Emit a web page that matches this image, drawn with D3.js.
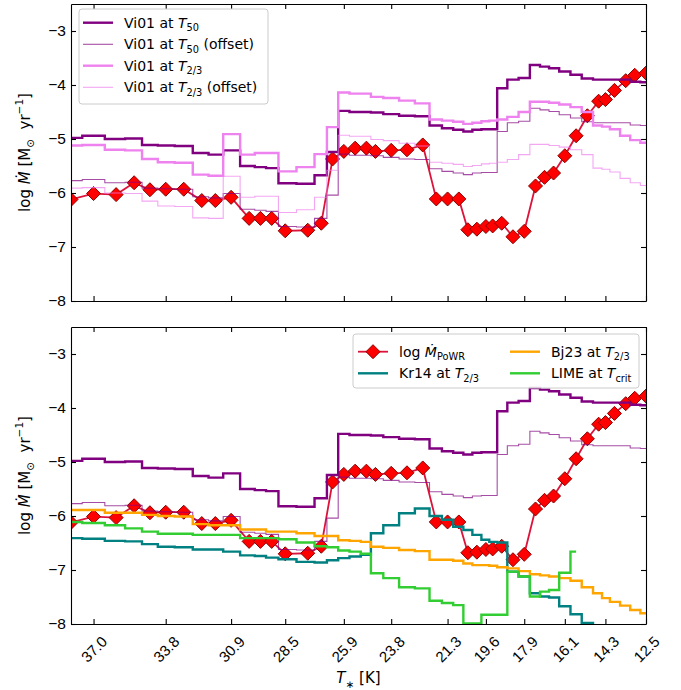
<!DOCTYPE html>
<html>
<head>
<meta charset="utf-8">
<script src="https://cdn.jsdelivr.net/npm/d3@7"></script>
<style>
  body { margin: 0; background: #fff; }
  svg { font-family: "DejaVu Sans", sans-serif; }
  text { white-space: pre; }
</style>
</head>
<body>
<div id="chart"></div>
<script>
// stellar temperatures of the model grid (kK), left to right
var Tstar = [38.0, 37.0, 36.0, 35.2, 34.5, 33.8, 33.0, 32.2, 31.6, 30.9, 30.1, 29.6,
             29.1, 28.5, 27.5, 26.9, 26.4, 25.9, 25.4, 24.9, 24.5, 23.8, 23.1, 22.4,
             21.8, 21.3, 20.8, 20.4, 20.0, 19.6, 19.3, 18.9, 18.4, 17.9, 17.4, 17.0,
             16.6, 16.1, 15.6, 15.1, 14.6, 14.3, 13.9, 13.4, 13.0, 12.5];

// log Mdot from PoWR models
var logMdotPoWR = [-6.12, -6.01, -6.03, -5.81, -5.94, -5.93, -5.93, -6.14, -6.14, -6.08, -6.47, -6.47,
                   -6.47, -6.70, -6.69, -6.56, -5.37, -5.23, -5.17, -5.17, -5.23, -5.21, -5.20, -5.11,
                   -6.11, -6.11, -6.11, -6.68, -6.67, -6.62, -6.61, -6.56, -6.81, -6.71, -5.87, -5.71,
                   -5.63, -5.31, -4.94, -4.57, -4.30, -4.27, -4.10, -3.92, -3.82, -3.78];

// Vink et al. 2001 recipe
var vi01T50 = [-4.98, -4.94, -5.00, -4.99, -5.11, -5.12, -5.13, -5.26, -5.29, -5.21, -5.50, -5.52,
               -5.54, -5.82, -5.83, -5.67, -5.24, -4.48, -4.50, -4.50, -4.51, -4.54, -4.57, -4.58,
               -4.75, -4.80, -4.83, -4.86, -4.83, -4.82, -4.82, -4.06, -3.90, -3.87, -3.63, -3.66,
               -3.69, -3.75, -3.81, -3.88, -3.90, -3.90, -3.90, -3.90, -3.94, -3.95];
var vi01T50off = [-5.77, -5.75, -5.81, -5.80, -5.91, -5.92, -5.93, -6.07, -6.09, -6.01, -6.30, -6.32,
                  -6.34, -6.62, -6.63, -6.47, -6.04, -5.28, -5.30, -5.30, -5.31, -5.34, -5.37, -5.38,
                  -5.55, -5.60, -5.63, -5.66, -5.63, -5.62, -5.62, -4.86, -4.70, -4.67, -4.43, -4.46,
                  -4.49, -4.55, -4.61, -4.68, -4.70, -4.70, -4.70, -4.70, -4.74, -4.75];
var vi01T23 = [-5.12, -5.11, -5.20, -5.21, -5.37, -5.43, -5.44, -5.66, -5.68, -4.91, -5.29, -5.26,
               -5.26, -5.60, -5.52, -5.28, -4.78, -4.14, -4.16, -4.16, -4.22, -4.24, -4.29, -4.34,
               -4.64, -4.66, -4.68, -4.72, -4.70, -4.67, -4.66, -4.64, -4.59, -4.50, -4.31, -4.31,
               -4.33, -4.36, -4.41, -4.50, -4.75, -4.77, -4.82, -4.94, -5.02, -5.07];
var vi01T23off = [-5.91, -5.90, -6.00, -6.01, -6.15, -6.24, -6.25, -6.46, -6.47, -5.69, -6.08, -6.06,
                  -6.06, -6.36, -6.31, -6.08, -5.58, -4.93, -4.95, -4.95, -5.01, -5.03, -5.08, -5.13,
                  -5.43, -5.45, -5.47, -5.51, -5.49, -5.46, -5.45, -5.43, -5.38, -5.29, -5.10, -5.10,
                  -5.12, -5.15, -5.20, -5.29, -5.54, -5.56, -5.61, -5.73, -5.81, -5.86];

// other recipes (bottom panel)
var kr14T23 = [-6.41, -6.42, -6.46, -6.47, -6.52, -6.57, -6.58, -6.62, -6.62, -6.66, -6.73, -6.74,
               -6.77, -6.80, -6.85, -6.86, -6.82, -6.78, -6.75, -6.72, -6.32, -6.17, -5.95, -5.86,
               -6.00, -6.07, -6.20, -6.26, -6.35, -6.44, -6.48, -6.49, -7.03, -7.12, -7.43, -7.49,
               -7.51, -7.67, -7.82, -7.98, -8.10, -8.20, -8.30, -8.40, -8.50, -8.60];
var bj23T23 = [-5.89, -5.89, -5.94, -5.94, -5.98, -6.00, -6.01, -6.15, -6.17, -6.17, -6.25, -6.25,
               -6.29, -6.29, -6.32, -6.37, -6.37, -6.45, -6.46, -6.48, -6.57, -6.59, -6.63, -6.65,
               -6.81, -6.81, -6.83, -6.88, -6.91, -6.91, -6.92, -6.95, -6.97, -7.02, -7.08, -7.10,
               -7.12, -7.15, -7.20, -7.32, -7.43, -7.52, -7.59, -7.66, -7.74, -7.80];
var limeTcrit = [-6.11, -6.13, -6.17, -6.23, -6.29, -6.33, -6.33, -6.35, -6.35, -6.35, -6.41, -6.41,
                 -6.41, -6.43, -6.49, -6.56, -6.58, -6.64, -6.66, -6.70, -7.06, -7.15, -7.32, -7.34,
                 -7.57, -7.61, -7.65, -7.99, -7.99, -7.83, -7.83, -7.83, -7.03, -7.12, -7.49, -7.40,
                 -7.37, -7.05, -6.66, null, null, null, null, null, null, null];

// axis ticks
var xTickValues = [37.0, 33.8, 30.9, 28.5, 25.9, 23.8, 21.3, 19.6, 17.9, 16.1, 14.3, 12.5];
var yTickValues = [-8, -7, -6, -5, -4, -3];

// set the dimensions of the figure and of the two panels
var W = 681, H = 690;
var left = 71, right = 646;
var panels = [{top: 4, bottom: 301}, {top: 327, bottom: 624}];

var svg = d3.select("#chart").append("svg")
    .attr("width", W)
    .attr("height", H);

// set the ranges (temperature axis is reversed)
var x = d3.scaleLinear()
    .domain([Tstar[0], Tstar[Tstar.length - 1]])
    .range([left, right]);

// helper: mixed text with italics, sub- and superscripts
function richText(sel, parts, fs) {
  var shift = 0;
  parts.forEach(function(p) {
    var target = p.sub ? fs * 0.3 : (p.sup ? -fs * 0.42 : 0);
    sel.append("tspan")
        .attr("dy", target - shift)
        .attr("font-size", (p.sub || p.sup) ? fs * 0.7 : fs)
        .attr("font-style", p.i ? "italic" : null)
        .text(p.t);
    shift = target;
  });
}

function seriesPoints(vals) {
  return vals.map(function(v, i) { return {t: Tstar[i], v: v}; });
}

function diamondPath(r) {
  return "M0," + (-r) + "L" + r + ",0L0," + r + "L" + (-r) + ",0Z";
}

panels.forEach(function(p, k) {
  var y = d3.scaleLinear().domain([-8, -2.5]).range([p.bottom, p.top]);
  var g = svg.append("g");

  g.append("clipPath").attr("id", "clip" + k)
    .append("rect")
      .attr("x", left).attr("y", p.top)
      .attr("width", right - left).attr("height", p.bottom - p.top);

  var plot = g.append("g").attr("clip-path", "url(#clip" + k + ")");

  var stepLine = d3.line()
      .defined(function(d) { return d.v !== null; })
      .curve(d3.curveStep)
      .x(function(d) { return x(d.t); })
      .y(function(d) { return y(d.v); });

  function addStep(vals, color, width, opacity) {
    plot.append("path")
        .datum(seriesPoints(vals))
        .attr("fill", "none")
        .attr("stroke", color)
        .attr("stroke-width", width)
        .attr("stroke-opacity", opacity)
        .attr("d", stepLine);
  }

  // PoWR mass-loss rates: line + diamonds
  plot.append("path")
      .datum(seriesPoints(logMdotPoWR))
      .attr("fill", "none")
      .attr("stroke", "#dc143c")
      .attr("stroke-width", 1.8)
      .attr("d", d3.line()
          .x(function(d) { return x(d.t); })
          .y(function(d) { return y(d.v); }));

  plot.selectAll(".dmd")
      .data(seriesPoints(logMdotPoWR))
    .enter().append("path")
      .attr("class", "dmd")
      .attr("transform", function(d) { return "translate(" + x(d.t) + "," + y(d.v) + ")"; })
      .attr("d", diamondPath(7))
      .attr("fill", "#ff0000")
      .attr("stroke", "#8b0000")
      .attr("stroke-width", 1);

  addStep(vi01T50, "#800080", 2.4, 1);
  addStep(vi01T50off, "#800080", 1.1, 0.7);
  if (k === 0) {
    addStep(vi01T23, "#ee82ee", 2.4, 1);
    addStep(vi01T23off, "#ee82ee", 1.1, 0.7);
  } else {
    addStep(kr14T23, "#008080", 2.4, 1);
    addStep(bj23T23, "#ffa500", 2.4, 1);
    addStep(limeTcrit, "#32cd32", 2.4, 1);
  }

  // axes with inward ticks on all sides
  var axL = g.append("g").attr("transform", "translate(" + left + ",0)")
      .call(d3.axisLeft(y).tickValues(yTickValues).tickFormat(d3.format("d"))
            .tickSizeInner(-5).tickSizeOuter(0).tickPadding(5));
  axL.selectAll("text").attr("font-size", 15.5).attr("fill", "#000");
  g.append("g").attr("transform", "translate(" + right + ",0)")
      .call(d3.axisRight(y).tickValues(yTickValues).tickSizeInner(-5).tickSizeOuter(0).tickFormat(""));
  g.append("g").attr("transform", "translate(0," + p.top + ")")
      .call(d3.axisTop(x).tickValues(xTickValues).tickSizeInner(-5).tickSizeOuter(0).tickFormat(""));
  var axB = g.append("g").attr("transform", "translate(0," + p.bottom + ")")
      .call(d3.axisBottom(x).tickValues(xTickValues).tickSizeInner(-5).tickSizeOuter(0)
            .tickFormat(k === 1 ? d3.format(".1f") : ""));
  axB.selectAll("text")
      .attr("y", null).attr("dy", null)
      .attr("dominant-baseline", "central")
      .attr("text-anchor", "middle")
      .attr("font-size", 15)
      .attr("fill", "#000")
      .attr("transform", "translate(0,25) rotate(-45)");
  g.selectAll(".domain").attr("stroke", "#000").attr("stroke-width", 1.1);
  g.selectAll(".tick line").attr("stroke", "#000").attr("stroke-width", 1.1);

  // y label
  var yl = g.append("text")
      .attr("transform", "translate(25," + ((p.top + p.bottom) / 2) + ") rotate(-90)")
      .attr("text-anchor", "middle")
      .attr("dominant-baseline", "central")
      .attr("fill", "#000");
  richText(yl, [{t: "log "}, {t: "\u1E40", i: true}, {t: " [M"}, {t: "\u2299", sub: true},
                {t: "  yr"}, {t: "\u22121", sup: true}, {t: "]"}], 15);
});

// x label
var xl = svg.append("text")
    .attr("x", (left + right) / 2)
    .attr("y", 683)
    .attr("text-anchor", "middle")
    .attr("fill", "#000");
richText(xl, [{t: "T", i: true}, {t: "\u2217", sub: true}, {t: " [K]"}], 15);

// legends
function legendBox(x0, y0, w, h) {
  svg.append("rect")
      .attr("x", x0).attr("y", y0).attr("width", w).attr("height", h)
      .attr("rx", 3)
      .attr("fill", "#fff").attr("fill-opacity", 0.8)
      .attr("stroke", "#cccccc").attr("stroke-width", 1);
}

function legendEntry(x0, yc, color, width, opacity, parts, marker) {
  svg.append("line")
      .attr("x1", x0).attr("x2", x0 + 30).attr("y1", yc).attr("y2", yc)
      .attr("stroke", color).attr("stroke-width", width).attr("stroke-opacity", opacity);
  if (marker) {
    svg.append("path")
        .attr("transform", "translate(" + (x0 + 15) + "," + yc + ")")
        .attr("d", diamondPath(7))
        .attr("fill", "#ff0000").attr("stroke", "#8b0000");
  }
  var t = svg.append("text")
      .attr("x", x0 + 41).attr("y", yc)
      .attr("dominant-baseline", "central")
      .attr("fill", "#000");
  richText(t, parts, 14);
}

legendBox(79, 9, 189, 95);
legendEntry(83, 22.7, "#800080", 2.4, 1, [{t: "Vi01 at "}, {t: "T", i: true}, {t: "50", sub: true}]);
legendEntry(83, 44.3, "#800080", 1.1, 0.7, [{t: "Vi01 at "}, {t: "T", i: true}, {t: "50", sub: true}, {t: " (offset)"}]);
legendEntry(83, 65.7, "#ee82ee", 2.4, 1, [{t: "Vi01 at "}, {t: "T", i: true}, {t: "2/3", sub: true}]);
legendEntry(83, 87.3, "#ee82ee", 1.1, 0.7, [{t: "Vi01 at "}, {t: "T", i: true}, {t: "2/3", sub: true}, {t: " (offset)"}]);

legendBox(353, 334, 286, 54);
legendEntry(358, 351.7, "#dc143c", 1.8, 1, [{t: "log "}, {t: "\u1E40", i: true}, {t: "PoWR", sub: true}], true);
legendEntry(358, 373.3, "#008080", 2.4, 1, [{t: "Kr14 at "}, {t: "T", i: true}, {t: "2/3", sub: true}]);
legendEntry(510, 351.7, "#ffa500", 2.4, 1, [{t: "Bj23 at "}, {t: "T", i: true}, {t: "2/3", sub: true}]);
legendEntry(510, 373.3, "#32cd32", 2.4, 1, [{t: "LIME at "}, {t: "T", i: true}, {t: "crit", sub: true}]);
</script>
</body>
</html>
